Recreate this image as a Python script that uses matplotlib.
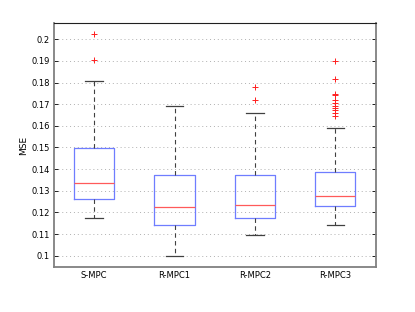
import matplotlib
matplotlib.use("Agg")
import matplotlib.pyplot as plt

labels = ["S-MPC", "R-MPC1", "R-MPC2", "R-MPC3"]
medians = [0.1337, 0.1226, 0.1233, 0.1277]
q1 = [0.1261, 0.1140, 0.1174, 0.1231]
q3 = [0.1496, 0.1372, 0.1372, 0.1385]
whis_lo = [0.1173, 0.1000, 0.1094, 0.1142]
whis_hi = [0.1809, 0.1690, 0.1661, 0.1589]
outliers = [
    [0.2023, 0.1903],
    [],
    [0.1781, 0.1718],
    [0.1900, 0.1818, 0.1747, 0.1740, 0.1720, 0.1706, 0.1692, 0.1683, 0.1673, 0.1659, 0.1646],
]
yticks = [0.1, 0.11, 0.12, 0.13, 0.14, 0.15, 0.16, 0.17, 0.18, 0.19, 0.2]

stats = []
for i in range(len(labels)):
    stats.append(dict(label=labels[i], med=medians[i], q1=q1[i], q3=q3[i],
                      whislo=whis_lo[i], whishi=whis_hi[i], fliers=outliers[i]))

fig = plt.figure(figsize=(4.15, 3.12), dpi=100)
ax = fig.add_axes([0.130, 0.145, 0.775, 0.780])

ax.bxp(stats, positions=[1, 2, 3, 4], widths=0.5, showfliers=True,
       boxprops=dict(color="#6f7dff", linewidth=0.9),
       medianprops=dict(color="#ff5a5a", linewidth=0.9),
       whiskerprops=dict(color="#404040", linestyle=(0, (4, 3)), linewidth=0.8),
       capprops=dict(color="#404040", linewidth=0.9),
       flierprops=dict(marker="+", markeredgecolor="#ff2020", markersize=4, markeredgewidth=0.7,
                       linestyle="none"),
       capwidths=0.22)

ax.set_xlim(0.5, 4.5)
ax.set_ylim(0.0949, 0.2073)
ax.set_yticks(yticks)
ax.set_yticklabels([f"{t:g}" for t in yticks])
ax.yaxis.grid(True, linestyle=(0, (1, 3)), color="#b0b0b0", linewidth=0.7)
ax.set_axisbelow(True)
ax.tick_params(axis="y", direction="in", right=True, length=3, labelsize=6, width=0.6, pad=3)
ax.tick_params(axis="x", length=0, labelsize=6, pad=3)
ax.set_ylabel("MSE", fontsize=6.5, labelpad=2)

for s in ["left", "bottom", "right"]:
    ax.spines[s].set_color("#808080")
    ax.spines[s].set_linewidth(1.3)
ax.spines["top"].set_color("#202020")
ax.spines["top"].set_linewidth(0.8)

fig.savefig("out.png", dpi=100)
